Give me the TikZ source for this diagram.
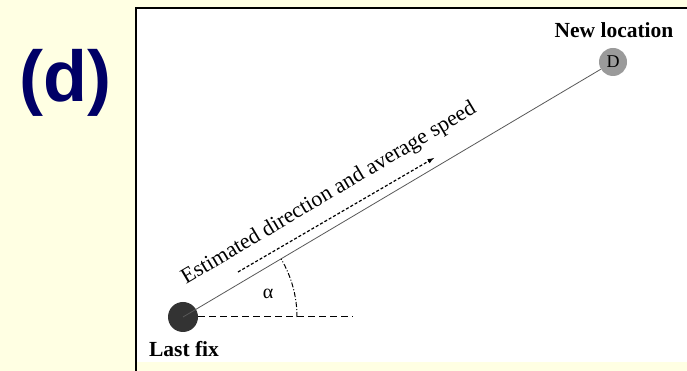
\documentclass[tikz,border=0pt]{standalone}
\usepackage{fontspec}
\setmainfont{Liberation Serif}
\newfontfamily\panelfont{Liberation Sans}
\usetikzlibrary{calc}
\definecolor{paneltitle}{HTML}{000066}
\definecolor{slidebg}{HTML}{FFFFE3}
\definecolor{fixgray}{HTML}{333333}
\definecolor{destgray}{HTML}{9A9A9A}

\begin{document}
\begin{tikzpicture}[>=latex, x=1pt, y=1pt,
    lbl/.style={font=\fontsize{21.5}{24}\selectfont\bfseries, inner sep=0pt},
    spot/.style={circle, inner sep=0pt}]
  % Slide background and the framed picture area.
  \fill[slidebg] (0,0) rectangle (687,371);
  \useasboundingbox (0,0) rectangle (687,371);
  \fill[white] (137,9) rectangle (687,363);
  \draw[line width=2pt] (136,0) -- (136,363) -- (687,363);
  % Panel letter.
  \node[font=\panelfont\fontsize{72}{80}\selectfont\bfseries, text=paneltitle]
    (panel) at (65,288) {(d)};
  % Last fix and new location.
  \node[spot, fill=fixgray, minimum size=30pt] (fix) at (183,54) {};
  \node[spot, fill=destgray, minimum size=28pt,
    font=\fontsize{18}{20}\selectfont] (dest) at (613,309) {D};
  \node[lbl] (fixlbl) at (184,22) {Last fix};
  \node[lbl] (destlbl) at (614,341) {New location};
  % Path towards the new location, with the reference direction.
  \draw[gray!70!black, line width=0.8pt] (fix.center) -- (dest);
  \coordinate (east) at (353,54);
  \draw[dashed, dash pattern=on 7pt off 4pt, line width=1pt] (fix.east) -- (east);
  \draw[dash pattern=on 5pt off 2pt on 1pt off 2pt, line width=1pt]
    ($(fix.center)+(114,0)$) arc[start angle=0, end angle=30.67, radius=114];
  \node[font=\fontsize{20}{22}\selectfont] (alpha) at (268,77) {α};
  % Estimated heading.
  \coordinate (hdgA) at (238,99);
  \coordinate (hdgB) at (434,213);
  \draw[->, densely dashed, line width=1.2pt] (hdgA) -- (hdgB);
  \node[rotate=30.67, font=\fontsize{22}{26}\selectfont] (hdglbl) at (329,177)
    {Estimated direction and average speed};
\end{tikzpicture}
\end{document}
